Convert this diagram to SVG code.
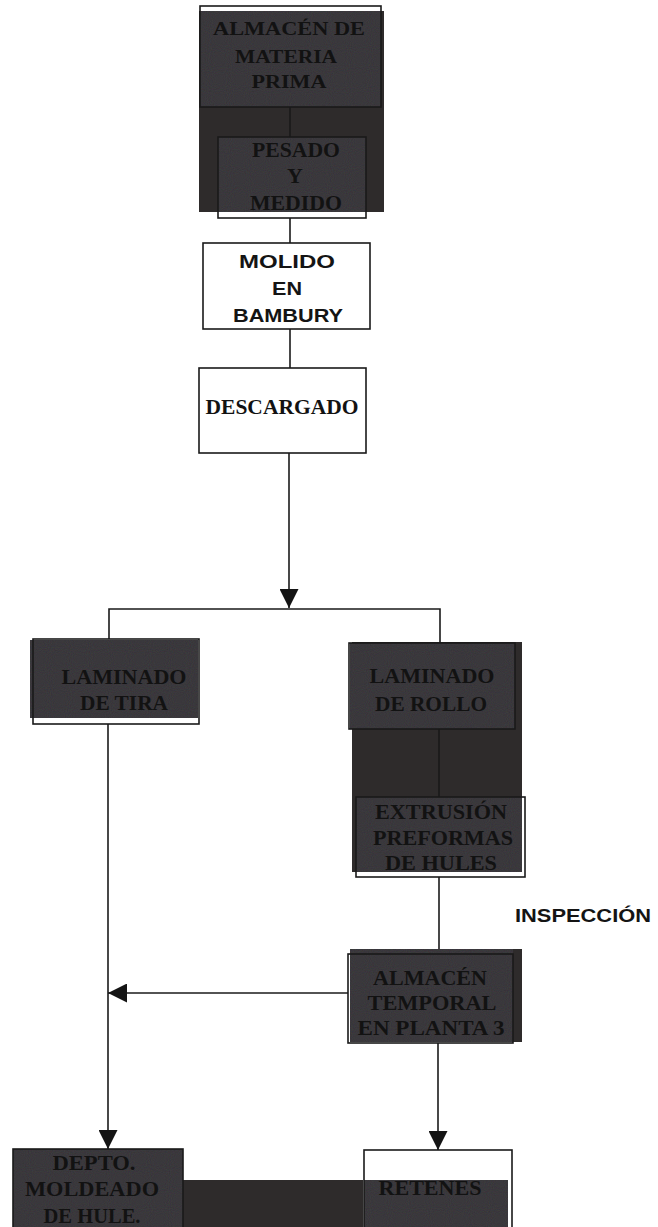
<svg xmlns="http://www.w3.org/2000/svg" width="658" height="1227" viewBox="0 0 658 1227">
  <style>
    .bg { fill: #ffffff; }
    .shade { fill: #2e2b2b; }
    .panel { fill: #363438; filter: url(#grain); }
    .frame { fill: none; stroke: #1a1a1a; stroke-width: 1.6; }
    .wbox { fill: #ffffff; stroke: #1a1a1a; stroke-width: 1.6; }
    .serif { font-family: "Liberation Serif", "Times New Roman", serif; font-weight: bold; fill: #121212; text-anchor: middle; }
    .sans { font-family: "Liberation Sans", Arial, sans-serif; font-weight: bold; fill: #141414; text-anchor: middle; }
    .note { font-family: "Liberation Sans", Arial, sans-serif; font-weight: bold; fill: #141414; text-anchor: start; }
    .link { fill: none; stroke: #1a1a1a; stroke-width: 1.6; }
  </style>
  <defs>
    <!-- fine speckle over the shaded panels -->
    <filter id="grain" x="0" y="0" width="100%" height="100%" color-interpolation-filters="sRGB">
      <feTurbulence type="fractalNoise" baseFrequency="0.95" numOctaves="1" seed="7" result="noise"/>
      <feColorMatrix in="noise" type="matrix" values="0.7 0 0 0 0  0 0.7 0 0 0  0 0 0.7 0 0  0 0 0 0 0.12" result="tint"/>
      <feComposite in="tint" in2="SourceGraphic" operator="in" result="speck"/>
      <feMerge><feMergeNode in="SourceGraphic"/><feMergeNode in="speck"/></feMerge>
    </filter>
    <marker id="head" markerUnits="userSpaceOnUse" markerWidth="20" markerHeight="19" refX="19" refY="9.5" orient="auto">
      <path d="M0,0 L19,9.5 L0,19 Z" fill="#141414"/>
    </marker>
  </defs>

  <rect class="bg" x="0" y="0" width="658" height="1227"/>

  <!-- dark backing areas -->
  <g id="backing">
    <rect class="shade" x="199" y="11" width="185" height="201"/>
    <rect class="shade" x="352" y="642" width="170" height="230"/>
    <rect class="shade" x="352" y="949" width="170" height="93"/>
    <rect class="shade" x="183" y="1180" width="180" height="47"/>
  </g>

  <!-- connectors -->
  <g id="connectors">
    <line class="link" x1="290" y1="107" x2="290" y2="137"/>
    <line class="link" x1="290" y1="218" x2="290" y2="243"/>
    <line class="link" x1="290" y1="329" x2="290" y2="368"/>
    <line class="link" x1="289" y1="453" x2="289" y2="608" marker-end="url(#head)"/>
    <polyline class="link" points="109,639 109,609 440,609 440,643"/>
    <line class="link" x1="439" y1="729" x2="439" y2="797" stroke-width="1.2"/>
    <line class="link" x1="439" y1="877" x2="439" y2="954"/>
    <line class="link" x1="108" y1="724" x2="108" y2="1149" marker-end="url(#head)"/>
    <line class="link" x1="348" y1="993" x2="108" y2="993" marker-end="url(#head)"/>
    <line class="link" x1="438" y1="1043" x2="438" y2="1150" marker-end="url(#head)"/>
  </g>

  <g id="almacen-materia-prima">
    <rect class="panel" x="200" y="11" width="181" height="96"/>
    <rect class="frame" x="200" y="6" width="181" height="101"/>
    <text class="serif" font-size="18" x="289" y="35" textLength="152" lengthAdjust="spacingAndGlyphs">ALMACÉN DE</text>
    <text class="serif" font-size="18" x="286" y="63" textLength="102" lengthAdjust="spacingAndGlyphs">MATERIA</text>
    <text class="serif" font-size="18" x="289" y="88" textLength="75" lengthAdjust="spacingAndGlyphs">PRIMA</text>
  </g>

  <g id="pesado-medido">
    <rect class="panel" x="218" y="137" width="148" height="75"/>
    <rect class="frame" x="218" y="137" width="148" height="81"/>
    <text class="serif" font-size="22" x="296" y="157" textLength="88" lengthAdjust="spacingAndGlyphs">PESADO</text>
    <text class="serif" font-size="22" x="295" y="183">Y</text>
    <text class="serif" font-size="22" x="296" y="210" textLength="92" lengthAdjust="spacingAndGlyphs">MEDIDO</text>
  </g>

  <g id="molido-bambury">
    <rect class="wbox" x="203" y="243" width="167" height="86"/>
    <text class="sans" font-size="18" x="287" y="268" textLength="96" lengthAdjust="spacingAndGlyphs">MOLIDO</text>
    <text class="sans" font-size="18" x="287" y="295" textLength="30" lengthAdjust="spacingAndGlyphs">EN</text>
    <text class="sans" font-size="18" x="288" y="322" textLength="110" lengthAdjust="spacingAndGlyphs">BAMBURY</text>
  </g>

  <g id="descargado">
    <rect class="wbox" x="199" y="368" width="167" height="85"/>
    <text class="serif" font-size="20" x="282" y="414" textLength="153" lengthAdjust="spacingAndGlyphs">DESCARGADO</text>
  </g>

  <g id="laminado-tira">
    <rect class="panel" x="30" y="640" width="168" height="78"/>
    <rect class="frame" x="33" y="639" width="166" height="85"/>
    <text class="serif" font-size="21" x="124" y="684" textLength="125" lengthAdjust="spacingAndGlyphs">LAMINADO</text>
    <text class="serif" font-size="21" x="124" y="710" textLength="88" lengthAdjust="spacingAndGlyphs">DE TIRA</text>
  </g>

  <g id="laminado-rollo">
    <rect class="panel" x="350" y="643" width="165" height="86"/>
    <rect class="frame" x="349" y="643" width="166" height="86"/>
    <text class="serif" font-size="21" x="432" y="683" textLength="125" lengthAdjust="spacingAndGlyphs">LAMINADO</text>
    <text class="serif" font-size="21" x="431" y="711" textLength="112" lengthAdjust="spacingAndGlyphs">DE ROLLO</text>
  </g>

  <g id="extrusion-preformas">
    <rect class="panel" x="356" y="797" width="166" height="75"/>
    <rect class="frame" x="356" y="797" width="169" height="80"/>
    <text class="serif" font-size="21" x="441" y="819" textLength="132" lengthAdjust="spacingAndGlyphs">EXTRUSIÓN</text>
    <text class="serif" font-size="21" x="443" y="845" textLength="140" lengthAdjust="spacingAndGlyphs">PREFORMAS</text>
    <text class="serif" font-size="21" x="441" y="870" textLength="112" lengthAdjust="spacingAndGlyphs">DE HULES</text>
  </g>

  <g id="inspeccion">
    <text class="note" font-size="19" x="515" y="922" textLength="136" lengthAdjust="spacingAndGlyphs">INSPECCIÓN</text>
  </g>

  <g id="almacen-temporal">
    <rect class="panel" x="350" y="949" width="163" height="93"/>
    <rect class="frame" x="348" y="954" width="165" height="89"/>
    <text class="serif" font-size="21" x="430" y="985" textLength="114" lengthAdjust="spacingAndGlyphs">ALMACÉN</text>
    <text class="serif" font-size="21" x="432" y="1010" textLength="129" lengthAdjust="spacingAndGlyphs">TEMPORAL</text>
    <text class="serif" font-size="21" x="431" y="1035" textLength="147" lengthAdjust="spacingAndGlyphs">EN PLANTA 3</text>
  </g>

  <g id="depto-moldeado">
    <rect class="panel" x="13" y="1149" width="170" height="78"/>
    <rect class="frame" x="13" y="1149" width="170" height="80"/>
    <text class="serif" font-size="21" x="94" y="1170" textLength="83" lengthAdjust="spacingAndGlyphs">DEPTO.</text>
    <text class="serif" font-size="21" x="92" y="1196" textLength="134" lengthAdjust="spacingAndGlyphs">MOLDEADO</text>
    <text class="serif" font-size="21" x="92" y="1223" textLength="97" lengthAdjust="spacingAndGlyphs">DE HULE.</text>
  </g>

  <g id="retenes">
    <rect class="panel" x="364" y="1180" width="144" height="47"/>
    <rect class="frame" x="364" y="1150" width="148" height="80"/>
    <text class="serif" font-size="21" x="430" y="1195" textLength="103" lengthAdjust="spacingAndGlyphs">RETENES</text>
  </g>
</svg>
